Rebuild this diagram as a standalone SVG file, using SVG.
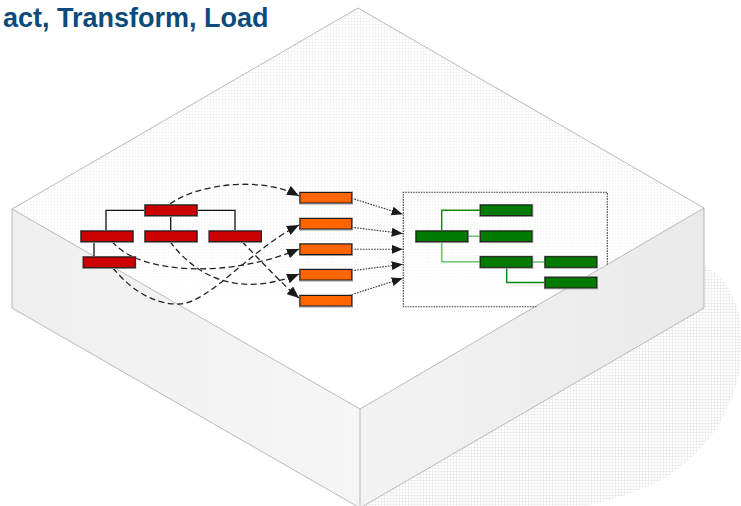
<svg xmlns="http://www.w3.org/2000/svg" width="741" height="506" viewBox="0 0 741 506">
  <defs>
    <pattern id="grid" width="3" height="3" patternUnits="userSpaceOnUse">
      <rect width="3" height="3" fill="#ffffff"/>
      <path d="M3 0H0V3" fill="none" stroke="#e4e4e4" stroke-width="0.7"/>
    </pattern>
    <pattern id="grid2" width="3" height="3" patternUnits="userSpaceOnUse">
      <rect width="3" height="3" fill="#ffffff"/>
      <path d="M3 0H0V3" fill="none" stroke="#dcdcdc" stroke-width="0.8"/>
    </pattern>
    <linearGradient id="topFade" gradientUnits="userSpaceOnUse" x1="0" y1="8" x2="0" y2="409">
      <stop offset="0" stop-color="#ffffff" stop-opacity="0"/>
      <stop offset="0.5" stop-color="#ffffff" stop-opacity="0.35"/>
      <stop offset="0.8" stop-color="#ffffff" stop-opacity="1"/>
      <stop offset="1" stop-color="#ffffff" stop-opacity="1"/>
    </linearGradient>
    <linearGradient id="leftFace" gradientUnits="userSpaceOnUse" x1="12" y1="0" x2="360" y2="0">
      <stop offset="0" stop-color="#efefef"/>
      <stop offset="1" stop-color="#f6f6f6"/>
    </linearGradient>
    <linearGradient id="rightFace" gradientUnits="userSpaceOnUse" x1="360" y1="0" x2="704" y2="0">
      <stop offset="0" stop-color="#f3f3f3"/>
      <stop offset="1" stop-color="#eaeaea"/>
    </linearGradient>
    <marker id="arrow" viewBox="0 0 12 10" refX="12" refY="5" markerWidth="12" markerHeight="10" markerUnits="userSpaceOnUse" orient="auto">
      <path d="M0 0L12 5L0 10Z" fill="#1a1a1a"/>
    </marker>
    <marker id="arrowS" viewBox="0 0 11 9" refX="11" refY="4.5" markerWidth="11" markerHeight="9" markerUnits="userSpaceOnUse" orient="auto">
      <path d="M0 0L11 4.5L0 9Z" fill="#1a1a1a"/>
    </marker>
  </defs>
  <style>
    .edge { fill: none; stroke: #a8a8a8; stroke-width: 0.8; }
    .box { stroke: #1a1a1a; stroke-width: 1; }
    .shade { fill: none; stroke: #9a9a9a; stroke-width: 1; }
    .red { fill: #cc0000; }
    .orange { fill: #ff6600; }
    .green { fill: #007a00; }
    .tree { fill: none; stroke: #111111; stroke-width: 1.3; }
    .gdark { fill: none; stroke: #0a8a0a; stroke-width: 1.4; }
    .glight { fill: none; stroke: #6fbf6f; stroke-width: 1.6; }
    .dash { fill: none; stroke: #222222; stroke-width: 1.3; stroke-dasharray: 6 3.5; marker-end: url(#arrow); }
    .dot { fill: none; stroke: #333333; stroke-width: 1.1; stroke-dasharray: 1.6 1.2; marker-end: url(#arrowS); }
    .frame { fill: none; stroke: #444444; stroke-width: 1.1; stroke-dasharray: 1.6 1.0; }
    .title { font-family: "Liberation Sans", Arial, sans-serif; font-weight: bold; font-size: 27px; fill: #0e4a7b; }
  </style>

  <rect width="741" height="506" fill="#ffffff"/>

  <!-- shadow -->
  <path d="M704 266 C725 275 738 300 742 330 C745 390 720 440 670 475 C640 493 610 501 570 508 L360 508 L704 308 Z" fill="url(#grid2)"/>

  <!-- block -->
  <g id="block">
    <path d="M358 8 L704 208 L360 409 L12 209 Z" fill="url(#grid)"/>
    <path d="M358 8 L704 208 L360 409 L12 209 Z" fill="url(#topFade)"/>
    <path d="M12 209 L360 409 L360 508 L12 308 Z" fill="url(#leftFace)"/>
    <path d="M704 208 L360 409 L360 508 L704 308 Z" fill="url(#rightFace)"/>
    <path class="edge" d="M12 209 L358 8 L704 208 L704 308 L360 508 L12 308 Z"/>
    <path class="edge" d="M12 209 L360 409 L704 208 M360 409 L360 508"/>
  </g>

  <text class="title" x="3" y="27">act, Transform, Load</text>

  <!-- target frame -->
  <g id="frame">
    <path class="frame" d="M536.5 306.7 H403.3 V192.3 H607.3 V264.7"/>
  </g>

  <!-- connectors -->
  <g id="connectors">
    <path class="tree" d="M145 210.3 H106 V231 M197 210.3 H235 V231 M170.7 215.7 V231 M94 241.5 V257"/>
    <path class="gdark" d="M480 210.3 H441.7 V231"/>
    <path class="glight" d="M441.7 241.7 V261.8 H480 M467.7 236.3 H480 M532 262 H545"/>
    <path class="gdark" d="M506.7 267.3 V282.5 H545"/>

    <path class="dash" d="M170 204 C195 185 260 175 299 196"/>
    <path class="dash" d="M112 241.5 C140 275 230 278 299 249"/>
    <path class="dash" d="M170 241.5 C200 282 245 296 299 274"/>
    <path class="dash" d="M242 241.5 C262 262 280 282 299 298"/>
    <path class="dash" d="M113 268 C135 295 160 305 180 304 C210 302 250 250 299 225"/>

    <path class="dot" d="M351.7 198.3 L402.7 214.3"/>
    <path class="dot" d="M351.7 227.3 L402.7 233.5"/>
    <path class="dot" d="M351.7 249.3 L402.7 249.3"/>
    <path class="dot" d="M351.7 270.7 L402.7 264.3"/>
    <path class="dot" d="M349 295.5 L402.7 278.3"/>
  </g>

  <!-- source nodes -->
  <g id="src-root"><rect class="shade" x="144.5" y="204.5" width="53" height="12"/><rect class="box red" x="145" y="205" width="52" height="10.6"/></g>
  <g id="src-a"><rect class="shade" x="80.5" y="230.5" width="53" height="12"/><rect class="box red" x="81" y="231" width="52" height="10.6"/></g>
  <g id="src-b"><rect class="shade" x="144.5" y="230.5" width="53" height="12"/><rect class="box red" x="145" y="231" width="52" height="10.6"/></g>
  <g id="src-c"><rect class="shade" x="208.5" y="230.5" width="53" height="12"/><rect class="box red" x="209.3" y="231" width="52" height="10.6"/></g>
  <g id="src-d"><rect class="shade" x="82.8" y="256.5" width="53" height="12"/><rect class="box red" x="83.3" y="257" width="52" height="10.6"/></g>

  <!-- staging nodes -->
  <g id="stage-1"><rect class="shade" x="299.5" y="192" width="53" height="12"/><rect class="box orange" x="300" y="192.5" width="51.7" height="10.5"/></g>
  <g id="stage-2"><rect class="shade" x="299.5" y="218" width="53" height="12"/><rect class="box orange" x="300" y="218.5" width="51.7" height="10.5"/></g>
  <g id="stage-3"><rect class="shade" x="299.5" y="243.5" width="53" height="12"/><rect class="box orange" x="300" y="244" width="51.7" height="10.5"/></g>
  <g id="stage-4"><rect class="shade" x="299.5" y="269" width="53" height="12"/><rect class="box orange" x="300" y="269.5" width="51.7" height="10.5"/></g>
  <g id="stage-5"><rect class="shade" x="299.5" y="295" width="53" height="12"/><rect class="box orange" x="300" y="295.5" width="51.7" height="10.5"/></g>

  <!-- target nodes -->
  <g id="tgt-root"><rect class="shade" x="415.5" y="230.5" width="53" height="12"/><rect class="box green" x="416" y="231" width="51.7" height="10.6"/></g>
  <g id="tgt-a"><rect class="shade" x="479.8" y="204.5" width="53" height="12"/><rect class="box green" x="480.3" y="205" width="51.7" height="10.6"/></g>
  <g id="tgt-b"><rect class="shade" x="479.8" y="230.5" width="53" height="12"/><rect class="box green" x="480.3" y="231" width="51.7" height="10.6"/></g>
  <g id="tgt-c"><rect class="shade" x="479.8" y="256.2" width="53" height="12"/><rect class="box green" x="480.3" y="256.7" width="51.7" height="10.6"/></g>
  <g id="tgt-d"><rect class="shade" x="544.5" y="256.2" width="53" height="12"/><rect class="box green" x="545" y="256.7" width="51.7" height="10.6"/></g>
  <g id="tgt-e"><rect class="shade" x="544.5" y="276.8" width="53" height="12"/><rect class="box green" x="545" y="277.3" width="51.7" height="10.6"/></g>
</svg>
